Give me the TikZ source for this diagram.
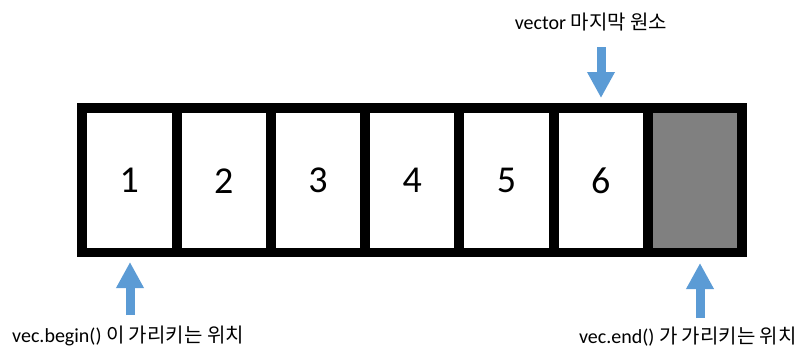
\documentclass[tikz,border=0pt]{standalone}
\usepackage{fontspec}
\setmainfont{Carlito}
\newfontfamily\kr{Noto Sans CJK KR}
\usetikzlibrary{arrows.meta}
\definecolor{arrowblue}{HTML}{5B9BD5}
\definecolor{cellgray}{HTML}{808080}
\begin{document}
\begin{tikzpicture}[x=1pt,y=-1pt,
  cell/.style={fill=white, minimum width=84.3pt, minimum height=135pt, inner sep=0pt,
    font=\fontsize{38}{40}\selectfont, anchor=north west},
  bluearrow/.style={draw=arrowblue, line width=9pt, -{Triangle[width=26pt,length=26pt]}},
  lbl/.style={font=\fontsize{20}{22}\selectfont, inner sep=0pt}]
\useasboundingbox (0,0) rectangle (801,349);
\node[fill=black, minimum width=670pt, minimum height=154pt, anchor=north west, inner sep=0pt] (frame) at (77,103) {};
\foreach \i in {1,...,6}{
  \node[cell] (c\i) at ({87+(\i-1)*94.3},113) {\i};
}
\node[cell, fill=cellgray] (c7) at ({87+6*94.3},113) {};
\node[lbl] (top) at (591,22) {vector {\kr 마지막 원소}};
\node[lbl, anchor=west] (beg) at (12,336) {vec.begin() {\kr 이 가리키는 위치}};
\node[lbl, anchor=east] (end) at (797,337) {vec.end() {\kr 가 가리키는 위치}};
\coordinate (a1s) at (601,47);
\coordinate (a1e) at (601,98);
\coordinate (a2s) at (130,315);
\coordinate (a2e) at (130,262);
\coordinate (a3s) at (700,318);
\coordinate (a3e) at (700,263);
\draw[bluearrow] (a1s) -- (a1e);
\draw[bluearrow] (a2s) -- (a2e);
\draw[bluearrow] (a3s) -- (a3e);
\end{tikzpicture}
\end{document}
